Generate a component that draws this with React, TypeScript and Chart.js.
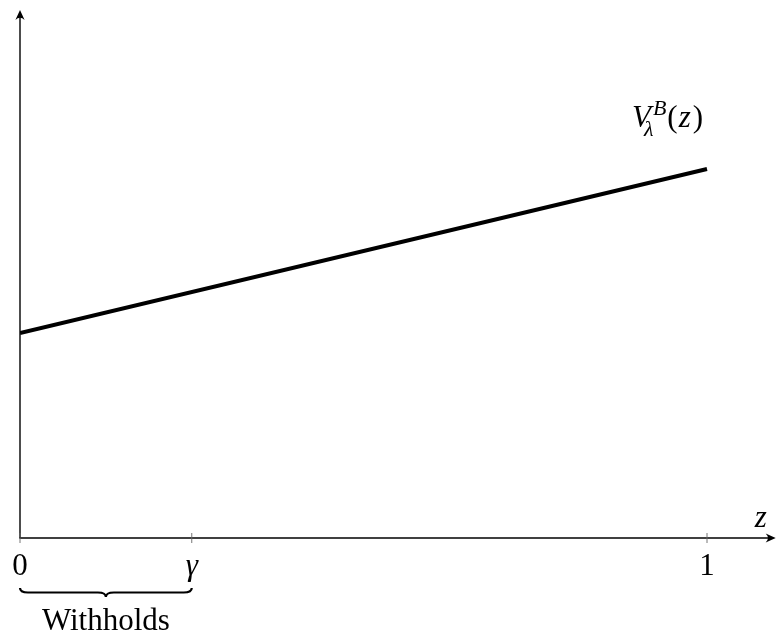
import React, { useEffect, useRef } from "react";
import { Chart, registerables } from "chart.js";

Chart.register(...registerables);

// Data
const zValues = [0, 1];
const vValues = [0.5, 0.9];
const tickValues = [0, 0.25, 1];
const tickLabels = ["0", "γ", "1"];
const tickItalic = [false, true, false];
const gammaValue = 0.25;
const xMax = 1.1;
const yMax = 1.288;

const SERIF = '"Liberation Serif", "DejaVu Serif", serif';

const axesPlugin = {
  id: "tikzAxes",
  afterDraw(chart: any) {
    const ctx = chart.ctx as CanvasRenderingContext2D;
    const xs = chart.scales.x;
    const ys = chart.scales.y;
    const x0 = xs.getPixelForValue(0);
    const y0 = ys.getPixelForValue(0);
    const xEnd = xs.getPixelForValue(xMax);
    const yTop = ys.getPixelForValue(yMax);
    ctx.save();
    ctx.strokeStyle = "#000";
    ctx.fillStyle = "#000";
    ctx.lineWidth = 1.4;
    // x axis
    ctx.beginPath();
    ctx.moveTo(x0 - 0.7, y0);
    ctx.lineTo(xEnd - 4, y0);
    ctx.stroke();
    // y axis
    ctx.beginPath();
    ctx.moveTo(x0, y0);
    ctx.lineTo(x0, yTop + 4);
    ctx.stroke();
    // arrow heads
    const arrow = (tx: number, ty: number, dx: number, dy: number) => {
      const L = 10, W = 4.6;
      const px = -dy, py = dx;
      ctx.beginPath();
      ctx.moveTo(tx, ty);
      ctx.lineTo(tx - dx * L + px * W, ty - dy * L + py * W);
      ctx.quadraticCurveTo(tx - dx * L * 0.55, ty - dy * L * 0.55, tx - dx * L - px * W, ty - dy * L - py * W);
      ctx.closePath();
      ctx.fill();
    };
    arrow(xEnd, y0, 1, 0);
    arrow(x0, yTop, 0, -1);
    // ticks
    ctx.strokeStyle = "#666";
    ctx.lineWidth = 0.9;
    tickValues.forEach((v) => {
      const px = xs.getPixelForValue(v);
      ctx.beginPath();
      ctx.moveTo(px, y0 - 5);
      ctx.lineTo(px, y0 + 5);
      ctx.stroke();
    });
    // tick labels
    ctx.fillStyle = "#000";
    ctx.textAlign = "center";
    ctx.textBaseline = "alphabetic";
    tickValues.forEach((v, i) => {
      const px = xs.getPixelForValue(v);
      ctx.font = (tickItalic[i] ? "italic " : "") + "31px " + SERIF;
      ctx.fillText(tickLabels[i], px, y0 + 37);
    });
    // z label
    ctx.font = "italic 31px " + SERIF;
    ctx.fillText("z", xEnd - 15, y0 - 11);
    // V label near line end
    const lx = xs.getPixelForValue(zValues[zValues.length - 1]);
    const ly = ys.getPixelForValue(vValues[vValues.length - 1]);
    ctx.textAlign = "left";
    let cx = lx - 75;
    const base = ly - 42;
    ctx.font = "italic 31px " + SERIF;
    ctx.fillText("V", cx, base);
    const vw = ctx.measureText("V").width;
    ctx.font = "italic 22px " + SERIF;
    ctx.fillText("λ", cx + vw - 7, base + 9);
    ctx.fillText("B", cx + vw + 2, base - 12);
    const bw = ctx.measureText("B").width;
    cx = cx + vw + bw + 3;
    ctx.font = "31px " + SERIF;
    ctx.fillText("(", cx, base);
    cx += ctx.measureText("(").width + 1;
    ctx.font = "italic 31px " + SERIF;
    ctx.fillText("z", cx, base);
    cx += ctx.measureText("z").width + 2;
    ctx.font = "31px " + SERIF;
    ctx.fillText(")", cx, base);
    // brace under 0..gamma
    const bx0 = xs.getPixelForValue(0);
    const bx1 = xs.getPixelForValue(gammaValue);
    const by = y0 + 50;
    const mid = (bx0 + bx1) / 2;
    const h = 9;
    ctx.strokeStyle = "#000";
    ctx.lineWidth = 2.2;
    ctx.beginPath();
    ctx.moveTo(bx0, by);
    ctx.quadraticCurveTo(bx0, by + h / 2, bx0 + 8, by + h / 2);
    ctx.lineTo(mid - 8, by + h / 2);
    ctx.quadraticCurveTo(mid, by + h / 2, mid, by + h);
    ctx.quadraticCurveTo(mid, by + h / 2, mid + 8, by + h / 2);
    ctx.lineTo(bx1 - 8, by + h / 2);
    ctx.quadraticCurveTo(bx1, by + h / 2, bx1, by);
    ctx.stroke();
    ctx.textAlign = "center";
    ctx.font = "31px " + SERIF;
    ctx.fillText("Withholds", mid, y0 + 92);
    ctx.restore();
  },
};

export default function App() {
  const ref = useRef<HTMLCanvasElement | null>(null);
  useEffect(() => {
    if (!ref.current) return;
    const chart = new Chart(ref.current, {
      type: "line",
      data: {
        datasets: [
          {
            data: zValues.map((z, i) => ({ x: z, y: vValues[i] })),
            borderColor: "#000",
            borderWidth: 4,
            pointRadius: 0,
            borderCapStyle: "butt",
            fill: false,
          },
        ],
      },
      options: {
        responsive: false,
        animation: false,
        devicePixelRatio: 1,
        layout: { padding: { left: 20, right: 8.3, top: 10, bottom: 99 } },
        plugins: { legend: { display: false }, tooltip: { enabled: false } },
        scales: {
          x: { type: "linear", min: 0, max: xMax, display: false },
          y: { type: "linear", min: 0, max: yMax, display: false },
        },
      },
      plugins: [axesPlugin],
    } as any);
    return () => chart.destroy();
  }, []);
  return (
    <div style={{ position: "absolute", left: 0, top: 0, width: 784, height: 637, background: "#fff" }}>
      <canvas ref={ref} width={784} height={637} style={{ width: 784, height: 637, display: "block" }} />
    </div>
  );
}
